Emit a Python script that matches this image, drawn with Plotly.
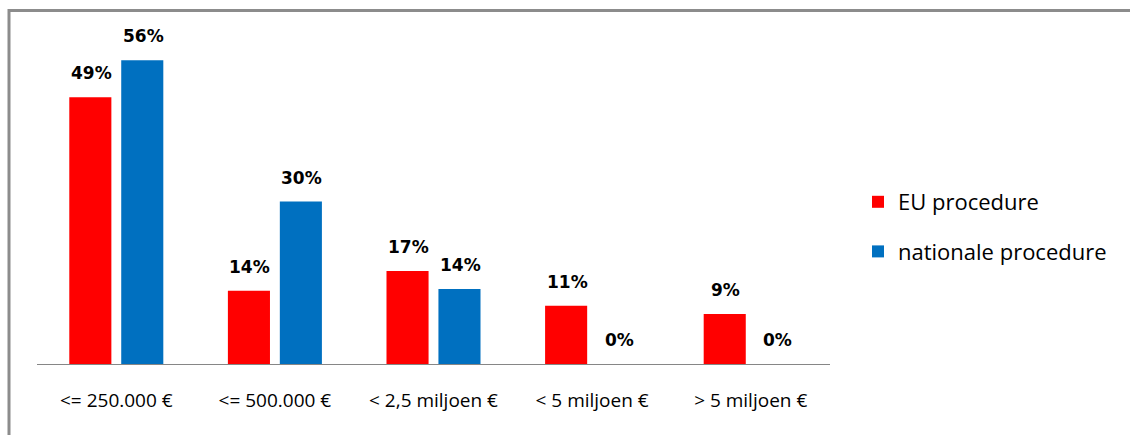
import plotly.graph_objects as go

categories = ["<= 250.000 €", "<= 500.000 €", "< 2,5 miljoen €", "< 5 miljoen €", "> 5 miljoen €"]
eu_values = [49.1, 13.5, 17.1, 10.7, 9.2]
nat_values = [55.9, 29.9, 13.8, 0.0, 0.0]
eu_labels = ["49%", "14%", "17%", "11%", "9%"]
nat_labels = ["56%", "30%", "14%", "0%", "0%"]
series_names = ["EU procedure", "nationale procedure"]
colors = ["#FF0000", "#0070C0"]

W, H = 1130, 435
L, R, T, B = 37, 300, 38, 71

fig = go.Figure()
fig.add_trace(go.Bar(x=categories, y=eu_values, name=series_names[0],
                     marker=dict(color=colors[0], line=dict(width=0)),
                     legendgroup="a"))
fig.add_trace(go.Bar(x=categories, y=nat_values, name=series_names[1],
                     marker=dict(color=colors[1], line=dict(width=0)),
                     legendgroup="b"))

label_font = dict(family="DejaVu Sans", size=17, color="#000000")
for vals, labs, shift in [(eu_values, eu_labels, -26), (nat_values, nat_labels, 26)]:
    for c, v, t in zip(categories, vals, labs):
        fig.add_annotation(x=c, y=v, text="<b>%s</b>" % t, showarrow=False,
                           xshift=shift + 1, yshift=12, yanchor="bottom",
                           font=label_font)

# outer frame (top and left edges visible)
pw = W - L - R
ph = H - T - B
fx0 = (9 - L) / pw
fx1 = (W + 5 - L) / pw
fy_top = (H - B - 10.5) / ph
fy_bot = (H - B - H - 5) / ph
frame_line = dict(color="#8C8C8C", width=3)
fig.add_shape(type="line", xref="paper", yref="paper",
              x0=fx0, x1=fx1, y0=fy_top, y1=fy_top, line=frame_line, layer="below")
fig.add_shape(type="line", xref="paper", yref="paper",
              x0=fx0, x1=fx0, y0=fy_top + 1.5 / ph, y1=fy_bot, line=frame_line, layer="below")

fig.update_layout(
    width=W, height=H,
    margin=dict(l=L, r=R, t=T, b=B, autoexpand=False),
    paper_bgcolor="white", plot_bgcolor="white",
    barmode="group", bargap=0.345, bargroupgap=0.19,
    showlegend=True,
    legend=dict(xref="container", yref="container", x=858 / W, y=1 - 181 / H,
                xanchor="left", yanchor="top",
                font=dict(family="Open Sans", size=22, color="#000000"),
                traceorder="grouped", tracegroupgap=18,
                itemwidth=30, bgcolor="rgba(0,0,0,0)"),
    xaxis=dict(showline=True, linecolor="#868686", linewidth=1,
               ticks="outside", ticklen=19, tickcolor="rgba(0,0,0,0)",
               tickfont=dict(family="Open Sans", size=19, color="#000000"),
               showgrid=False, zeroline=False),
    yaxis=dict(range=[0, 60], visible=False, showgrid=False, zeroline=False),
)

fig.write_html("out.html", config={"displayModeBar": False},
               post_script="document.body.style.margin='0';document.body.style.overflow='hidden';")
